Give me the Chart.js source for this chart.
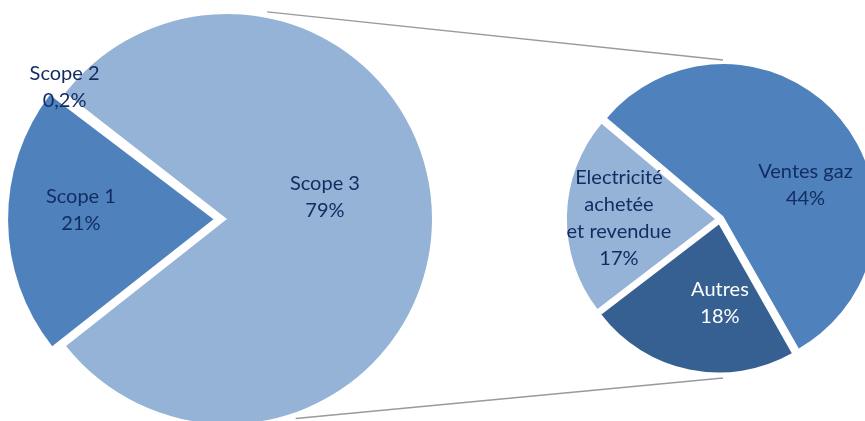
<!DOCTYPE html>
<html>
<head>
<meta charset="utf-8">
<script src="https://cdn.jsdelivr.net/npm/chart.js@4.4.1/dist/chart.umd.min.js"></script>
<style>
  html, body { margin: 0; padding: 0; background: #fff; }
  #wrap { position: relative; width: 865px; height: 421px; overflow: hidden; }
  #wrap canvas { position: absolute; left: 0; top: 0; }
</style>
</head>
<body>
<div id="wrap">
  <canvas id="scopesChart"></canvas>
  <canvas id="scope3Chart"></canvas>
</div>
<script>
// Répartition des émissions par scope (%)
const scopeLabels = [['Scope 3'], ['Scope 1'], ['Scope 2']];
const scopeValues = [79, 21, 0.2];
const scopeColors = ['#95B3D7', '#4F81BD', '#4F81BD'];

// Détail du scope 3 (% du total)
const scope3Labels = [['Ventes gaz'], ['Autres'], ['Electricité', 'achetée', 'et revendue']];
const scope3Values = [44, 18, 17];
const scope3Colors = ['#4F81BD', '#376092', '#95B3D7'];

const TEXT_DARK = '#132D63';
const LABEL_FONT = '20px Lato, "Open Sans", sans-serif';
const LINE_H = 27;

// position des étiquettes : [fraction du rayon, décalage angulaire en degrés]
const scopeLabelLayout = [[0.49, -12.7], [0.714, 3.9], [1.02, 1.5]];
const scope3LabelLayout = [[0.622, 18], [0.568, -11.5], [0.683, -0.5]];

function pct(v) {
    return v.toLocaleString('fr-FR') + '%';
}

// dessine nom + pourcentage sur chaque part
const sliceLabels = {
    id: 'sliceLabels',
    afterDatasetsDraw(chart, args, opts) {
        const ctx = chart.ctx;
        const meta = chart.getDatasetMeta(0);
        const values = chart.data.datasets[0].data;
        ctx.save();
        ctx.font = LABEL_FONT;
        ctx.textAlign = 'center';
        ctx.textBaseline = 'middle';
        meta.data.forEach(function (arc, i) {
            const layout = opts.layout[i];
            const mid = (arc.startAngle + arc.endAngle) / 2 + layout[1] * Math.PI / 180;
            const dist = arc.outerRadius * layout[0];
            const cx = arc.x + Math.cos(mid) * dist;
            const cy = arc.y + Math.sin(mid) * dist;
            const lines = chart.data.labels[i].concat([pct(values[i])]);
            const top = cy - (lines.length - 1) * LINE_H / 2;
            ctx.fillStyle = opts.colors[i];
            lines.forEach(function (t, k) {
                ctx.fillText(t, cx, top + k * LINE_H);
            });
        });
        ctx.restore();
    }
};

// NB : Chart.js décale une part de offset/4 pixels
const scopesCanvas = document.getElementById('scopesChart');
const scopesChart = new Chart(scopesCanvas.getContext('2d'), {
    type: 'pie',
    data: {
        labels: scopeLabels,
        datasets: [{
            data: scopeValues,
            backgroundColor: scopeColors,
            borderWidth: 0,
            offset: [0, 54, 54],
            clip: false
        }]
    },
    options: {
        responsive: true,
        maintainAspectRatio: false,
        animation: false,
        rotation: -52.1,
        radius: 205,
        layout: { padding: { left: 0, right: 411, top: 17, bottom: 0 } },
        plugins: {
            legend: { display: false },
            tooltip: { enabled: false },
            sliceLabels: {
                layout: scopeLabelLayout,
                colors: [TEXT_DARK, TEXT_DARK, TEXT_DARK]
            }
        }
    },
    plugins: [sliceLabels]
});

// lignes de liaison entre les deux camemberts
const connectors = {
    id: 'connectors',
    beforeDatasetsDraw(chart) {
        const left = scopesChart.getDatasetMeta(0).data[0];
        const right = chart.getDatasetMeta(0).data[0];
        if (!left || !right) return;
        const lr = left.outerRadius + 6;
        const rr = right.outerRadius + 11;
        const a1 = (11 - 90) * Math.PI / 180;
        const a2 = (161 - 90) * Math.PI / 180;
        const ctx = chart.ctx;
        ctx.save();
        ctx.strokeStyle = '#9A9A9A';
        ctx.lineWidth = 1.5;
        ctx.beginPath();
        ctx.moveTo(left.x + Math.cos(a1) * lr, left.y + Math.sin(a1) * lr);
        ctx.lineTo(right.x + 3, right.y - rr);
        ctx.moveTo(left.x + Math.cos(a2) * lr, left.y + Math.sin(a2) * lr);
        ctx.lineTo(right.x + 3, right.y + rr);
        ctx.stroke();
        ctx.restore();
    }
};

const scope3Canvas = document.getElementById('scope3Chart');
new Chart(scope3Canvas.getContext('2d'), {
    type: 'pie',
    data: {
        labels: scope3Labels,
        datasets: [{
            data: scope3Values,
            backgroundColor: scope3Colors,
            borderWidth: 0,
            offset: [17, 22, 20],
            clip: false
        }]
    },
    options: {
        responsive: true,
        maintainAspectRatio: false,
        animation: false,
        rotation: -50,
        radius: 148,
        layout: { padding: { left: 575, right: 0, top: 17, bottom: 0 } },
        plugins: {
            legend: { display: false },
            tooltip: { enabled: false },
            sliceLabels: {
                layout: scope3LabelLayout,
                colors: [TEXT_DARK, '#FFFFFF', TEXT_DARK]
            }
        }
    },
    plugins: [connectors, sliceLabels]
});
</script>
</body>
</html>
